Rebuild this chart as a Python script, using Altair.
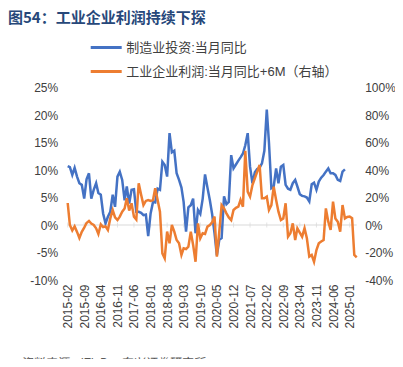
import altair as alt
import pandas as pd

title_text = "图54：工业企业利润持续下探"
source_text = "资料来源：iFinD，东兴证券研究所"
name_inv = "制造业投资:当月同比"
name_prof = "工业企业利润:当月同比+6M（右轴）"

tick_labels = ["2015-02", "2015-09", "2016-04", "2016-11", "2017-06", "2018-01",
               "2018-08", "2019-03", "2019-10", "2020-05", "2020-12", "2021-07",
               "2022-02", "2022-09", "2023-04", "2023-11", "2024-06", "2025-01"]

left_ticks = [-10, -5, 0, 5, 10, 15, 20, 25]
right_ticks = [-40, -20, 0, 20, 40, 60, 80, 100]

# 制造业投资:当月同比 (%), monthly from 2015-02
invest = [10.7, 10.5, 9.1, 10.4, 8.8, 7.6, 7.3, 4.8, 8.3, 9.4,
          4.8, 6.4, 7.6, 5.8, 5.5, 2.1, 0.3, 1.5, 2.4, 5.5,
          3.3, 8.8, 9.7, 8.2, 4.5, 7.0, 3.9, 6.4, 6.5, 2.4,
          2.4, 2.2, 1.8, 1.9, -2.0, 2.1, 4.2, 4.1, 6.6, 6.4,
          11.5, 10.9, 8.8, 16.7, 13.2, 13.5, 9.4, 8.2, 6.8, 4.2,
          -1.2, 3.2, 3.6, 4.8, -1.5, 2.7, 2.0, 4.8, 9.2, 6.8,
          4.5, 2.0, -1.5, -5.5, -2.7, -2.4, 5.2, 3.8, 4.2, 12.7,
          10.3, 11.0, 11.7, 12.3, 13.0, 14.5, 16.7, 10.6, 7.6, 9.6,
          10.2, 10.4, 11.2, 13.5, 21.0, 15.0, 6.7, 7.0, 10.3, 7.6,
          10.6, 10.9, 7.3, 6.6, 6.4, 7.6, 8.2, 7.0, 5.6, 5.3,
          5.2, 5.0, 4.3, 7.4, 7.7, 6.4, 7.9, 8.6, 9.1, 9.7,
          10.3, 9.4, 9.4, 9.1, 8.2, 8.0, 9.7, 10.1]

# 工业企业利润:当月同比 shifted +6M (%), monthly from 2015-02
profit = [16.0, 0.0, -4.0, -1.0, -5.0, -9.5, -5.0, -2.0, 1.5, 2.9,
          1.0, 0.0, -2.4, -6.5, 0.5, -1.5, -1.0, -3.6, 4.8, 10.9,
          5.5, 3.6, 6.1, 9.7, 12.0, 19.5, 10.5, 15.8, 6.0, 4.0,
          30.3, 22.0, 14.5, 17.5, 18.2, 17.5, 18.2, 26.7, 18.2, 9.7,
          -20.6, -24.2, -4.8, -13.3, 0.0, -4.8, -10.9, -13.3, -21.8, -17.0,
          -17.5, -15.8, -4.8, -14.5, -26.7, 1.2, -9.7, -6.0, -6.5, -1.2,
          0.0, 2.0, 6.1, -23.0, -4.8, 14.5, 12.1, 8.5, 5.5, 3.6,
          10.9, 12.5, 13.3, 18.2, 13.3, 54.0, 24.2, 20.6, 29.1, 34.0,
          38.8, 43.6, 19.4, 19.4, 20.6, 10.9, 14.5, 27.9, 18.2, 9.7,
          3.6, 4.8, 15.8, -8.5, -6.0, 1.2, -10.9, -2.4, -5.5, -8.5,
          -2.4, -9.7, -23.0, -21.8, -26.7, -18.2, -13.3, -12.0, -10.9, 12.1,
          2.4, -3.6, 17.0, 4.8, 2.4, -4.8, 14.5, 4.8, 5.8, 6.1,
          5.0, -21.8, -23.5]

inv_dates = pd.date_range("2015-02-01", periods=len(invest), freq="MS").strftime("%Y-%m-%d")
prof_dates = pd.date_range("2015-02-01", periods=len(profit), freq="MS").strftime("%Y-%m-%d")
df_inv = pd.DataFrame({"date": inv_dates, "v": invest, "series": name_inv})
df_prof = pd.DataFrame({"date": prof_dates, "v": profit, "series": name_prof})
df_ticks = pd.DataFrame({"date": [t + "-01" for t in tick_labels], "y": 0})

FONT = "Liberation Sans, Noto Sans CJK SC, sans-serif"
BLUE = "#4472C4"
ORANGE = "#ED7D31"
LABEL = "#404040"

W, H = 289, 192.5
x_dom = [alt.DateTime(year=2015, month=2, date=1), alt.DateTime(year=2025, month=4, date=1)]
x_scale = alt.Scale(domain=x_dom, nice=False, padding=0)
left_scale = alt.Scale(domain=[-10, 25], nice=False, zero=False)
right_scale = alt.Scale(domain=[-40, 100], nice=False, zero=False)

x_axis = alt.Axis(
    values=[alt.DateTime(year=int(t[:4]), month=int(t[5:]), date=1) for t in tick_labels],
    format="%Y-%m", labelAngle=270, labelFontSize=12, labelColor=LABEL, labelFont=FONT,
    ticks=False, domain=False, grid=False, labelPadding=4, title=None,
)

color_scale = alt.Scale(domain=[name_inv, name_prof], range=[BLUE, ORANGE])
legend = alt.Legend(
    orient="none", legendX=21.5, legendY=-57, direction="vertical", title=None,
    symbolType="stroke", symbolStrokeWidth=3, symbolSize=961, labelFontSize=13,
    labelColor=LABEL, labelFont=FONT, labelOffset=3, rowPadding=-11, padding=0,
    labelLimit=400)

zero_rule = alt.Chart(pd.DataFrame({"y": [0]})).mark_rule(color="#D9D9D9", strokeWidth=1).encode(
    y=alt.Y("y:Q", scale=left_scale, axis=None)
)
zero_ticks = alt.Chart(df_ticks).mark_tick(color="#D9D9D9", orient="vertical", size=5, thickness=1).encode(
    x=alt.X("date:T", scale=x_scale, axis=x_axis),
    y=alt.Y("y:Q", scale=left_scale, axis=None),
)

inv_line = alt.Chart(df_inv).mark_line(strokeWidth=2.5).encode(
    x=alt.X("date:T", scale=x_scale, axis=x_axis),
    y=alt.Y("v:Q", scale=left_scale, axis=alt.Axis(
        values=left_ticks, labelExpr="datum.value + '%'", orient="left",
        ticks=False, domain=False, grid=False, labelPadding=10,
        labelFontSize=12, labelColor=LABEL, labelFont=FONT, title=None)),
    color=alt.Color("series:N", scale=color_scale, legend=legend),
)

prof_line = alt.Chart(df_prof).mark_line(strokeWidth=2.5).encode(
    x=alt.X("date:T", scale=x_scale, axis=x_axis),
    y=alt.Y("v:Q", scale=right_scale, axis=alt.Axis(
        values=right_ticks, labelExpr="datum.value + '%'", orient="right",
        ticks=False, domain=False, grid=False, labelPadding=8,
        labelFontSize=12, labelColor=LABEL, labelFont=FONT, title=None)),
    color=alt.Color("series:N", scale=color_scale, legend=legend),
)

title_mark = alt.Chart(pd.DataFrame({"t": [title_text]})).mark_text(
    align="left", baseline="middle", fontSize=15, fontWeight="bold",
    color="#27487A", font="Noto Sans CJK SC"
).encode(text="t:N", x=alt.value(-59.7), y=alt.value(-70))

source_mark = alt.Chart(pd.DataFrame({"t": [source_text]})).mark_text(
    align="left", baseline="middle", fontSize=12, fontStyle="italic",
    color="#595959", font=FONT
).encode(text="t:N", x=alt.value(-47.7), y=alt.value(275))

chart = alt.layer(
    zero_rule, zero_ticks, inv_line, prof_line, title_mark, source_mark
).resolve_scale(y="independent").properties(
    width=W, height=H,
    autosize=alt.AutoSizeParams(type="none"),
    padding={"left": 59.7, "top": 79.5, "right": 38.3, "bottom": 79},
).configure_view(stroke=None)

chart.save("out.html", embed_options={"renderer": "svg", "actions": False})
